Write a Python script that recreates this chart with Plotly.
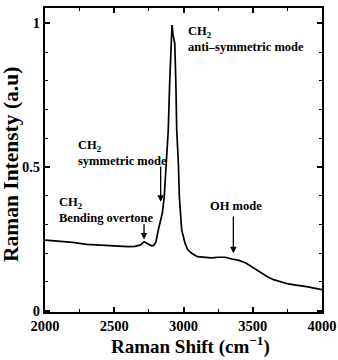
import plotly.graph_objects as go

shift = [2000, 2100, 2200, 2300, 2400, 2500, 2600, 2650, 2690, 2715, 2740, 2770, 2785,
         2800, 2818, 2835, 2847, 2861, 2878, 2890, 2900, 2910, 2917, 2925, 2931, 2937,
         2945, 2951, 2963, 2970, 2987, 3000, 3011, 3030, 3059, 3100, 3150, 3200, 3250,
         3300, 3350, 3400, 3450, 3500, 3550, 3600, 3650, 3700, 3750, 3800, 3850, 3900,
         3950, 4000]
intensity = [0.246, 0.243, 0.238, 0.231, 0.228, 0.226, 0.223, 0.224, 0.229, 0.240, 0.233,
             0.226, 0.227, 0.238, 0.281, 0.320, 0.339, 0.397, 0.513, 0.630, 0.790, 0.920,
             0.994, 0.960, 0.948, 0.930, 0.790, 0.630, 0.513, 0.397, 0.281, 0.250, 0.235,
             0.213, 0.200, 0.188, 0.185, 0.184, 0.186, 0.186, 0.180, 0.175, 0.166, 0.150,
             0.137, 0.120, 0.108, 0.100, 0.094, 0.090, 0.087, 0.083, 0.078, 0.073]

x_ticks = [2000, 2500, 3000, 3500, 4000]
x_labels = ["2000", "2500", "3000", "3500", "4000"]
y_ticks = [0, 0.5, 1]
y_labels = ["0", "0.5", "1"]

x_title = "Raman Shift (cm<sup>\u22121</sup>)"
y_title = "Raman Intensty (a.u)"

labels = ["CH<sub>2</sub><br>anti\u2013symmetric mode",
          "CH<sub>2</sub><br>symmetric mode",
          "CH<sub>2</sub><br>Bending overtone",
          "OH mode"]
label_pos = [(3018, 1.006, "left"), (2226, 0.608, "left"), (2085, 0.408, "left"), (3379, 0.395, "center")]
arrows = [(2835, 0.379, 0.507), (2715, 0.248, 0.306), (3360, 0.200, 0.333)]

FONT = "Liberation Serif"

fig = go.Figure()
fig.add_trace(go.Scatter(x=shift, y=intensity, mode="lines",
                         line=dict(color="black", width=1.7), showlegend=False))

for txt, (lx, ly, anc) in zip(labels, label_pos):
    fig.add_annotation(x=lx, y=ly, xref="x", yref="y", text="<b>" + txt.replace("<br>", "</b><br><b>") + "</b>",
                       showarrow=False, xanchor=anc, yanchor="top", align="left",
                       font=dict(family=FONT, size=12.5, color="black"))

for ax_, hy, ty in arrows:
    fig.add_annotation(x=ax_, y=hy, ax=ax_, ay=ty, xref="x", yref="y", axref="x", ayref="y",
                       text="", showarrow=True, arrowhead=2, arrowsize=1, arrowwidth=1.3,
                       arrowcolor="black")

# axis titles placed as annotations for precise positioning
fig.add_annotation(x=0.525, y=-0.158, xref="paper", yref="paper", text="<b>" + x_title + "</b>",
                   showarrow=False, xanchor="center", yanchor="bottom",
                   font=dict(family=FONT, size=19, color="black"))
fig.add_annotation(x=-0.1227, y=0.4836, xref="paper", yref="paper", text="<b>" + y_title + "</b>",
                   showarrow=False, xanchor="center", yanchor="middle", textangle=-90,
                   font=dict(family=FONT, size=21.5, color="black"))

axis_common = dict(showline=True, linecolor="black", linewidth=2, mirror="ticks",
                   ticks="inside", ticklen=5, tickwidth=1.5, tickcolor="black",
                   showgrid=False, zeroline=False, automargin=False,
                   tickfont=dict(family=FONT, size=14.5, color="black"))

fig.update_xaxes(range=[2000, 4000], tickvals=x_ticks, ticktext=["<b>%s</b>" % t for t in x_labels],
                 minor=dict(dtick=250, ticks="inside", ticklen=3, tickcolor="black", tickwidth=1.2),
                 **axis_common)
fig.update_yaxes(range=[-0.0045, 1.0536], tickvals=y_ticks, ticktext=["<b>%s</b>" % t for t in y_labels],
                 minor=dict(dtick=0.1, ticks="inside", ticklen=3, tickcolor="black", tickwidth=1.2),
                 **axis_common)

fig.update_layout(width=338, height=360, margin=dict(l=45, r=16, t=8, b=48),
                  paper_bgcolor="white", plot_bgcolor="white")

fig.write_html("out.html")
